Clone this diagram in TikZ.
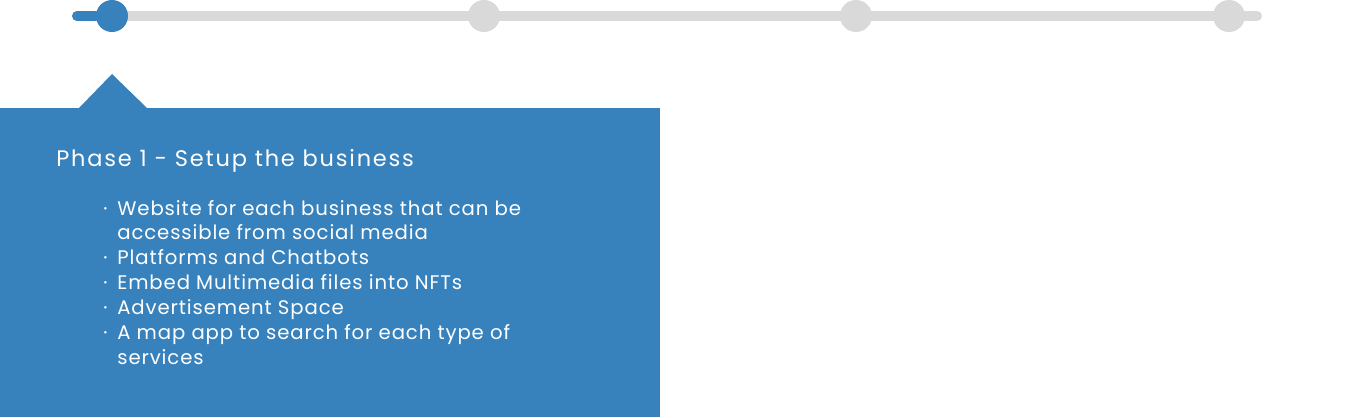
\documentclass[tikz,border=0pt]{standalone}
\usepackage{fontspec}
\setmainfont{Poppins}[LetterSpace=4.5]
\usetikzlibrary{positioning,calc}
\definecolor{phaseblue}{RGB}{55,129,188}
\definecolor{trackgray}{RGB}{217,217,217}
\tikzset{
  track/.style={draw=trackgray, line width=0.2cm, line cap=round},
  milestone/.style={circle, fill=trackgray, minimum size=0.64cm, inner sep=0pt},
  card/.style={fill=phaseblue, minimum width=13.2cm, minimum height=6.18cm,
               inner sep=0pt, anchor=north west},
  phasetitle/.style={text=white, font=\fontsize{12.8}{15}\selectfont\addfontfeatures{LetterSpace=8},
                     inner sep=0pt, anchor=base west},
  phaselist/.style={text=white, font=\fontsize{11.2}{14.2}\selectfont,
                    inner sep=0pt, anchor=base west},
}
\newcommand{\itemdot}{\makebox[0.28cm][l]{·}}

\begin{document}
\begin{tikzpicture}[x=0.02cm, y=-0.02cm]
  \useasboundingbox (0,0) rectangle (1363,417);
  % timeline track
  \coordinate (tstart) at (77,16);
  \coordinate (tend) at (1257,16);
  \draw[track] (tstart) -- (tend);
  \node[milestone, fill=phaseblue] (m1) at (112,16) {};
  \node[milestone] (m2) at (484,16) {};
  \node[milestone] (m3) at (856,16) {};
  \node[milestone] (m4) at (1229,16) {};
  \draw[track, draw=phaseblue] (tstart) -- (m1);
  % phase card with pointer
  \node[card] (card) at (0,108) {};
  \fill[phaseblue] (79,108) -- (m1.center |- 0,74) -- (147,108) -- cycle;
  \node[phasetitle] (title) at (56,166) {Phase 1 - Setup the business};
  \node[phaselist] (items) at (103,215) {%
    \begin{tabular}[t]{@{}l@{}l@{}}
      \itemdot & Website for each business that can be\\
               & accessible from social media\\
      \itemdot & Platforms and Chatbots\\
      \itemdot & Embed Multimedia files into NFTs\\
      \itemdot & Advertisement Space\\
      \itemdot & A map app to search for each type of\\
               & services
    \end{tabular}};
\end{tikzpicture}
\end{document}
